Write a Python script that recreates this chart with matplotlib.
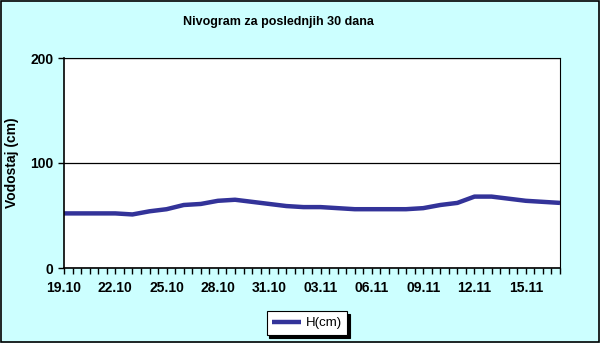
import matplotlib as mpl
mpl.use('Agg')
import matplotlib.pyplot as plt
from matplotlib.patches import Rectangle
from matplotlib.ticker import MultipleLocator

plt.rcParams['font.family'] = ['Liberation Sans', 'DejaVu Sans']

# dnevni vodostaj, 19.10 - 17.11
days = list(range(30))
h_cm = [52, 52, 52, 52, 51, 54, 56, 60, 61, 64,
        65, 63, 61, 59, 58, 58, 57, 56, 56, 56,
        56, 57, 60, 62, 68, 68, 66, 64, 63, 62]
tick_days = [0, 3, 6, 9, 12, 15, 18, 21, 24, 27]
tick_labels = ['19.10', '22.10', '25.10', '28.10', '31.10',
               '03.11', '06.11', '09.11', '12.11', '15.11']

fig = plt.figure(figsize=(6, 3.43), dpi=100, facecolor='#CCFFFF')
ax = fig.add_axes([64/600, 1-268/343, (560-64)/600, (268-58)/343])
ax.set_facecolor('white')

ax.plot(days, h_cm, color='#333399', lw=3.2, solid_joinstyle='round',
        solid_capstyle='butt', label='H(cm)')

ax.set_xlim(0, 29)
ax.set_ylim(0, 200)
ax.set_yticks([0, 100, 200])
ax.yaxis.grid(True, color='black', lw=0.9)
ax.set_xticks(tick_days)
ax.set_xticklabels(tick_labels)
ax.xaxis.set_minor_locator(MultipleLocator(0.5))
ax.tick_params(axis='both', which='both', direction='out', length=4,
               width=1, labelsize=10, colors='black')
ax.tick_params(axis='x', pad=5)
for lab in ax.get_xticklabels() + ax.get_yticklabels():
    lab.set_fontweight('bold')
for s in ax.spines.values():
    s.set_color('black')
ax.spines['left'].set_linewidth(1.2)
ax.spines['bottom'].set_linewidth(1.2)
ax.spines['top'].set_linewidth(0.8)
ax.spines['right'].set_linewidth(0.8)

ax.set_ylabel('Vodostaj (cm)', fontsize=10, fontweight='bold', labelpad=8)
fig.text(278/600, 1-22/343, 'Nivogram za poslednjih 30 dana',
         ha='center', va='center', fontsize=9, fontweight='bold')

leg = fig.legend(loc='center', bbox_to_anchor=(307/600, 1-323/343),
                 frameon=True, fancybox=False, shadow={'color': 'black', 'alpha': 1},
                 edgecolor='black', framealpha=1, fontsize=9.5,
                 handlelength=2.2, borderpad=0.45, handletextpad=0.3)
leg.get_frame().set_linewidth(0.8)

fig.patches.append(Rectangle((0.001, 0.002), 0.997, 0.995, transform=fig.transFigure,
                             fill=False, edgecolor='black', lw=1.2))

fig.savefig('out.png', dpi=100, facecolor=fig.get_facecolor())
